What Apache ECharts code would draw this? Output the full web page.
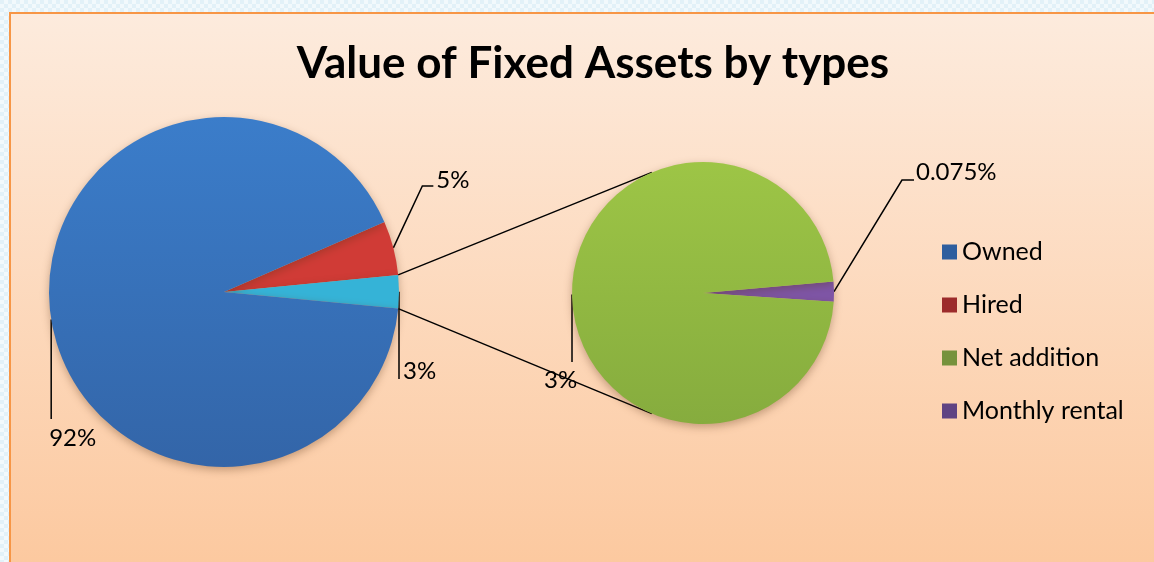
<!DOCTYPE html>
<html>
<head>
<meta charset="utf-8">
<script src="https://cdn.jsdelivr.net/npm/echarts@6/dist/echarts.min.js"></script>
<style>
  html, body { margin: 0; padding: 0; width: 1154px; height: 562px; overflow: hidden;
    background-color: #E2F1F8;
    background-image: linear-gradient(45deg, #F2F9FC 25%, transparent 25%, transparent 75%, #F2F9FC 75%),
                      linear-gradient(45deg, #F2F9FC 25%, transparent 25%, transparent 75%, #F2F9FC 75%);
    background-size: 8px 8px; background-position: 0 0, 4px 4px; }
  #frame { position: absolute; left: 9px; top: 12px; width: 1170px; height: 580px;
    border: 2px solid #F79646; background: linear-gradient(#FDEBDD, #FCC79C); }
  #chart { position: absolute; left: 0; top: 0; width: 1154px; height: 562px; }
</style>
</head>
<body>
<div id="frame"></div>
<div id="chart"></div>
<script>
// ---- data ----
const titleText = 'Value of Fixed Assets by types';
const mainCategories = ['Hired', 'Other', 'Owned'];
const mainValues = [5, 3.075, 92];
const mainLabels = ['5%', '3%', '92%'];
const subCategories = ['Monthly rental', 'Net addition'];
const subValues = [0.075, 3];
const subLabels = ['0.075%', '3%'];
const legendOrder = ['Owned', 'Hired', 'Net addition', 'Monthly rental'];

// ---- geometry / style ----
const L = { cx: 224, cy: 292, r: 175, start: 23.6 };
const R = { cx: 703, cy: 293, r: 131, start: 5.0 };
const FONT = 'Lato';

function midAngles(values, start) {
  const total = values.reduce((a, b) => a + b, 0);
  let a = start; const mids = [], edges = [start];
  values.forEach(v => { const span = v / total * 360; mids.push(a - span / 2); a -= span; edges.push(a); });
  return { mids, edges };
}
function pt(g, deg) { const t = deg * Math.PI / 180; return [g.cx + g.r * Math.cos(t), g.cy - g.r * Math.sin(t)]; }

const mainAng = midAngles(mainValues, L.start);
const subAng = midAngles(subValues, R.start);

// label placement relative to slice anchor (style config)
const mainLabelCfg = {
  Hired: a => ({ x: a[0] + 43, y: 180, align: 'left', pts: [a, [a[0] + 29, 186], [a[0] + 40, 186]] }),
  Other: a => ({ x: a[0] + 4, y: 371, align: 'left', pts: [a, [a[0], 330], [a[0], 379]] }),
  Owned: a => ({ x: a[0] - 2, y: 438, align: 'left', pts: [a, [a[0], 370], [a[0], 419]] })
};
const subLabelCfg = {
  'Monthly rental': a => ({ x: a[0] + 82, y: 172, align: 'left', pts: [a, [a[0] + 68, 180], [a[0] + 80, 180]] }),
  'Net addition': a => ({ x: a[0] - 28, y: 380, align: 'left', pts: [a, [a[0], 330], [a[0], 362]] })
};

const colors = {
  Owned: { type: 'linear', x: 0, y: 0, x2: 0, y2: 1, colorStops: [{ offset: 0, color: '#3B7DCA' }, { offset: 1, color: '#3365A8' }] },
  Hired: '#D03B36',
  Other: '#35B3D7',
  'Net addition': { type: 'linear', x: 0, y: 0, x2: 0, y2: 1, colorStops: [{ offset: 0, color: '#9DC546' }, { offset: 1, color: '#86AC3E' }] },
  'Monthly rental': '#7E55A6'
};
const legendColors = { Owned: '#2E5E9E', Hired: '#9C2B2B', 'Net addition': '#76923C', 'Monthly rental': '#5F4383' };

const shadow = { shadowBlur: 8, shadowColor: 'rgba(90,50,20,0.35)', shadowOffsetY: 3 };
const labelStyle = { color: '#000', fontFamily: FONT, fontSize: 24 };

function makeLayout(cats, ang, geom, cfg) {
  return function (params) {
    const name = cats[params.dataIndex];
    const a = pt(geom, ang.mids[params.dataIndex]);
    const c = cfg[name](a);
    return { x: c.x, y: c.y, align: c.align, verticalAlign: 'middle', labelLinePoints: c.pts };
  };
}

// connector lines between the pies
const topEdge = pt(L, mainAng.edges[1]);
const botEdge = pt(L, mainAng.edges[2]);
const rTop = pt(R, 113);
const rBot = pt(R, -113);

const chart = echarts.init(document.getElementById('chart'));
chart.setOption({
  animation: false,
  title: {
    text: titleText, left: 588, top: 37, textAlign: 'center',
    textStyle: { fontFamily: FONT, fontWeight: 'bold', fontSize: 44, color: '#000' }
  },
  legend: {
    orient: 'vertical', left: 937, top: 234, itemWidth: 15, itemHeight: 15, itemGap: 27,
    icon: 'rect',
    textStyle: { fontFamily: FONT, fontSize: 25, color: '#000', lineHeight: 26 },
    data: legendOrder.map(n => ({ name: n, itemStyle: { color: legendColors[n] } }))
  },
  graphic: [
    { type: 'line', z: 1, shape: { x1: topEdge[0], y1: topEdge[1], x2: rTop[0], y2: rTop[1] }, style: { stroke: '#000', lineWidth: 1.5 } },
    { type: 'line', z: 1, shape: { x1: botEdge[0], y1: botEdge[1], x2: rBot[0], y2: rBot[1] }, style: { stroke: '#000', lineWidth: 1.5 } }
  ],
  series: [
    {
      type: 'pie', center: [L.cx, L.cy], radius: L.r, startAngle: L.start, clockwise: true,
      avoidLabelOverlap: false, emphasis: { disabled: true },
      itemStyle: Object.assign({ borderWidth: 0 }, shadow),
      label: Object.assign({ show: true, position: 'outside', formatter: p => mainLabels[p.dataIndex] }, labelStyle),
      labelLine: { show: true, lineStyle: { color: '#000', width: 1.5 } },
      labelLayout: makeLayout(mainCategories, mainAng, L, mainLabelCfg),
      data: mainCategories.map((n, i) => ({ name: n, value: mainValues[i], itemStyle: { color: colors[n] } }))
    },
    {
      type: 'pie', center: [R.cx, R.cy], radius: R.r, startAngle: R.start, clockwise: true,
      avoidLabelOverlap: false, emphasis: { disabled: true },
      itemStyle: Object.assign({ borderWidth: 0 }, shadow),
      label: Object.assign({ show: true, position: 'outside', formatter: p => subLabels[p.dataIndex] }, labelStyle),
      labelLine: { show: true, lineStyle: { color: '#000', width: 1.5 } },
      labelLayout: makeLayout(subCategories, subAng, R, subLabelCfg),
      data: subCategories.map((n, i) => ({ name: n, value: subValues[i], itemStyle: { color: colors[n] } }))
    }
  ]
});
</script>
</body>
</html>
